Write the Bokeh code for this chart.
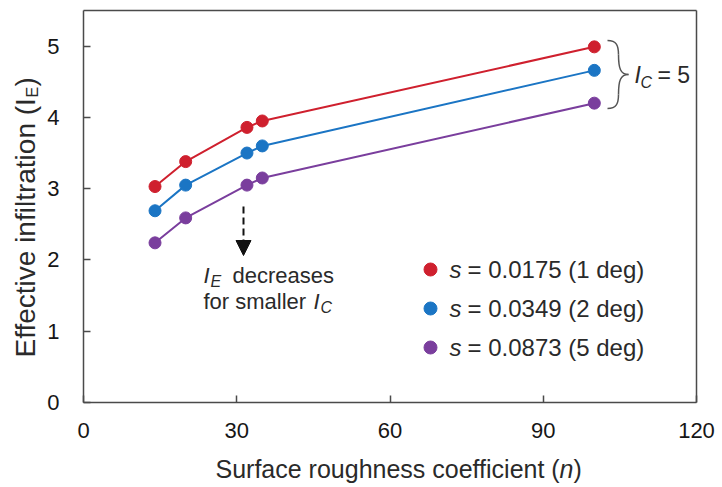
from bokeh.plotting import figure
from bokeh.models import Range1d, FixedTicker, Label, Arrow, NormalHead, LinearAxis
from bokeh.core.properties import value
from bokeh.embed import file_html
from bokeh.resources import INLINE

# ---- data ----
n_values = [14, 20, 32, 35, 100]
ie_s1 = [3.03, 3.38, 3.86, 3.95, 4.99]   # s = 0.0175 (1 deg)
ie_s2 = [2.69, 3.05, 3.50, 3.60, 4.66]   # s = 0.0349 (2 deg)
ie_s3 = [2.24, 2.59, 3.05, 3.15, 4.20]   # s = 0.0873 (5 deg)
series_labels = ["= 0.0175 (1 deg)", "= 0.0349 (2 deg)", "= 0.0873 (5 deg)"]
series_colors = ["#cf202e", "#1b75c4", "#7a3e9d"]
x_ticks = [0, 30, 60, 90, 120]
y_ticks = [0, 1, 2, 3, 4, 5]
X_MAX, Y_MAX = 120, 5.5

FONT = "Liberation Sans"
TXT = "#2a2a2a"
AX = "#4a4a4a"

W, H = 722, 487
# plot box inside the canvas (pixels): left, right, top, bottom
BL, BR, BT, BB = 83, 696, 10, 402
sx = (BR - BL) / X_MAX
sy = (BB - BT) / Y_MAX
x0 = -BL / sx
x1 = X_MAX + (W - BR) / sx
y0 = -(H - BB) / sy
y1 = Y_MAX + BT / sy

def X(px):
    return x0 + px / sx

def Y(py):
    return y1 - py / sy

p = figure(width=W, height=H, output_backend="svg", toolbar_location=None,
           x_range=Range1d(x0, x1), y_range=Range1d(y0, y1),
           x_axis_type=None, y_axis_type=None,
           min_border=0, min_border_left=0, min_border_right=0,
           min_border_top=0, min_border_bottom=0,
           background_fill_color="white", border_fill_color="white")
p.outline_line_color = None
p.grid.visible = False

def make_axis(loc, bounds, ticks, show_labels):
    ax = LinearAxis(fixed_location=loc, bounds=bounds, ticker=FixedTicker(ticks=ticks))
    ax.minor_tick_line_color = None
    ax.major_tick_in = 7
    ax.major_tick_out = 0
    ax.major_tick_line_color = AX
    ax.major_tick_line_width = 1.5
    ax.axis_line_color = AX
    ax.axis_line_width = 1.5
    ax.major_label_text_font = FONT
    ax.major_label_text_font_size = "22px"
    ax.major_label_text_color = "#161616" if show_labels else None
    return ax

ax_b = make_axis(0, (0, X_MAX), x_ticks, True)
ax_b.major_label_standoff = 20
ax_l = make_axis(0, (0, Y_MAX), y_ticks, True)
ax_l.major_label_standoff = 24
ax_t = make_axis(Y_MAX, (0, X_MAX), [], False)
ax_r = make_axis(X_MAX, (0, Y_MAX), [], False)
p.add_layout(ax_b, "below")
p.add_layout(ax_l, "left")
p.add_layout(ax_t, "above")
p.add_layout(ax_r, "right")

# ---- series ----
for ys, col in zip([ie_s1, ie_s2, ie_s3], series_colors):
    p.line(n_values, ys, line_color=col, line_width=2)
    p.scatter(n_values, ys, size=12, fill_color=col, line_color=col)

# ---- legend (manual) ----
legend_y = [Y(269), Y(308), Y(347)]
p.scatter([X(430)] * 3, legend_y, size=13, fill_color=series_colors, line_color=series_colors)
p.text([X(449)] * 3, legend_y, text=["s"] * 3, text_font=value(FONT), text_font_size="24px",
       text_font_style="italic", text_color=TXT, text_baseline="middle")
p.text([X(467)] * 3, legend_y, text=series_labels, text_font=value(FONT), text_font_size="24px",
       text_color=TXT, text_baseline="middle")

# ---- brace + I_C = 5 ----
p.bezier(x0=[X(607), X(618), X(628), X(618)], y0=[Y(40), Y(54), Y(74), Y(94)],
         x1=[X(618), X(628), X(618), X(607)], y1=[Y(54), Y(74), Y(94), Y(108)],
         cx0=[X(616), X(618), X(620), X(618)], cy0=[Y(40), Y(68), Y(74), Y(103)],
         cx1=[X(618), X(620), X(618), X(616)], cy1=[Y(45), Y(74), Y(80), Y(108)],
         line_color="#555555", line_width=1.5)

BASE_SHIFT = 0.35  # correction of the label baseline, in em

def lab(px, py, t, size, style="normal", angle=0):
    s = BASE_SHIFT * size
    if angle == 0:
        py = py - s
    else:
        px = px - s
    p.add_layout(Label(x=X(px), y=Y(py), text=t, text_font=FONT,
                       text_font_size=f"{size}px", text_font_style=style, text_color=TXT,
                       text_baseline="alphabetic", text_align="left",
                       angle=angle, angle_units="deg"))

lab(634, 83, "I", 23, "italic")
lab(640, 88, "C", 16, "italic")
lab(657, 83, "= 5", 23)

# ---- arrow annotation ----
p.add_layout(Arrow(end=NormalHead(size=15, fill_color="#111111", line_color="#111111"),
                   x_start=X(243), y_start=Y(206), x_end=X(243), y_end=Y(255),
                   line_color="#111111", line_width=2, line_dash="7 4"))
lab(203, 283, "I", 22, "italic")
lab(210, 287, "E", 16, "italic")
lab(232, 283, "decreases", 22)
lab(203, 309, "for smaller", 22)
lab(313, 309, "I", 22, "italic")
lab(320, 313, "C", 16, "italic")

# ---- axis titles ----
lab(215, 477, "Surface roughness coefficient (", 25)
lab(559, 477, "n", 25, "italic")
lab(573, 477, ")", 25)

lab(35, 357, "Effective infiltration (I", 28, angle=90)
lab(38, 97, "E", 16, angle=90)
lab(35, 86, ")", 28, angle=90)

open("out.html", "w").write(file_html(p, INLINE))
